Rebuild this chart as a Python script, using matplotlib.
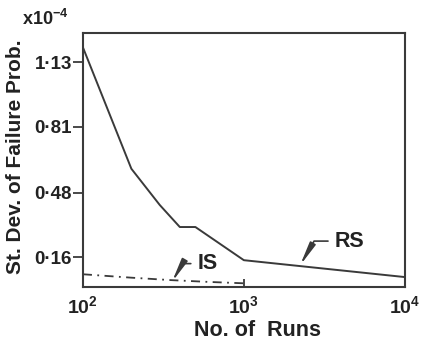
import matplotlib
matplotlib.use('Agg')
import matplotlib.pyplot as plt

plt.rcParams['font.family'] = ['Liberation Sans', 'DejaVu Sans']
plt.rcParams['font.weight'] = 'bold'
plt.rcParams['mathtext.fontset'] = 'custom'
plt.rcParams['mathtext.rm'] = 'Liberation Sans:bold'
plt.rcParams['mathtext.it'] = 'Liberation Sans:bold'
plt.rcParams['mathtext.bf'] = 'Liberation Sans:bold'
plt.rcParams['mathtext.default'] = 'rm'

# dados (desvio padrao em 1e-4)
runs_rs = [100, 200, 300, 400, 500, 1000, 10000]
std_rs = [1.204, 0.60, 0.42, 0.31, 0.31, 0.145, 0.061]
runs_is = [100, 200, 350, 600, 1000]
std_is = [0.075, 0.058, 0.046, 0.037, 0.030]

yticks = [0.16, 0.48, 0.81, 1.13]
ytick_labels = ['0·16', '0·48', '0·81', '1·13']
xticks = [1e2, 1e3, 1e4]
xtick_labels = ['10$^{2}$', '10$^{3}$', '10$^{4}$']

cor = '#3a3a3a'

fig = plt.figure(figsize=(4.23, 3.41), dpi=100)
ax = fig.add_axes([0.196, 0.158, 0.761, 0.745])

ax.plot(runs_rs, std_rs, color=cor, linewidth=1.4)
ax.plot(runs_is, std_is, color=cor, linewidth=1.3, linestyle=(0, (5, 3, 1, 3)))

ax.set_xscale('log')
ax.set_xlim(1e2, 1e4)
ax.set_ylim(0.011, 1.275)

ax.set_yticks(yticks)
ax.set_yticklabels(ytick_labels, fontsize=13.5, color='#222222')
ax.set_xticks(xticks)
ax.set_xticklabels(xtick_labels, fontsize=14, color='#222222')
ax.minorticks_off()
ax.tick_params(axis='y', direction='out', length=7, width=1.3, pad=1, color=cor)
ax.tick_params(axis='x', direction='in', length=6, width=1.3, pad=6, color=cor)

for s in ax.spines.values():
    s.set_color(cor)
    s.set_linewidth(1.5)

# rotulos das curvas
ax.annotate('RS', xy=(2230, 0.118), xytext=(4550, 0.24), fontsize=15.5,
            ha='center', va='center', color='#222222',
            arrowprops=dict(arrowstyle='-|>,head_length=0.9,head_width=0.12',
                            connectionstyle='angle,angleA=0,angleB=60,rad=0',
                            color=cor, lw=1.2, shrinkA=3, shrinkB=0))
ax.annotate('IS', xy=(357, 0.036), xytext=(597, 0.128), fontsize=15.5,
            ha='center', va='center', color='#222222',
            arrowprops=dict(arrowstyle='-|>,head_length=0.9,head_width=0.12',
                            connectionstyle='angle,angleA=0,angleB=60,rad=0',
                            color=cor, lw=1.2, shrinkA=3, shrinkB=0))

fig.text(0.052, 0.945, 'x10$^{-4}$', fontsize=13, ha='left', va='center', color='#222222')
fig.text(16 / 423, 1 - 157 / 341, 'St. Dev. of Failure Prob.', rotation=90,
         fontsize=15, ha='center', va='center', color='#222222')
fig.text(257 / 423, 1 - 330 / 341, 'No. of  Runs', fontsize=15.5,
         ha='center', va='center', color='#222222')

plt.savefig('out.png', dpi=100)
